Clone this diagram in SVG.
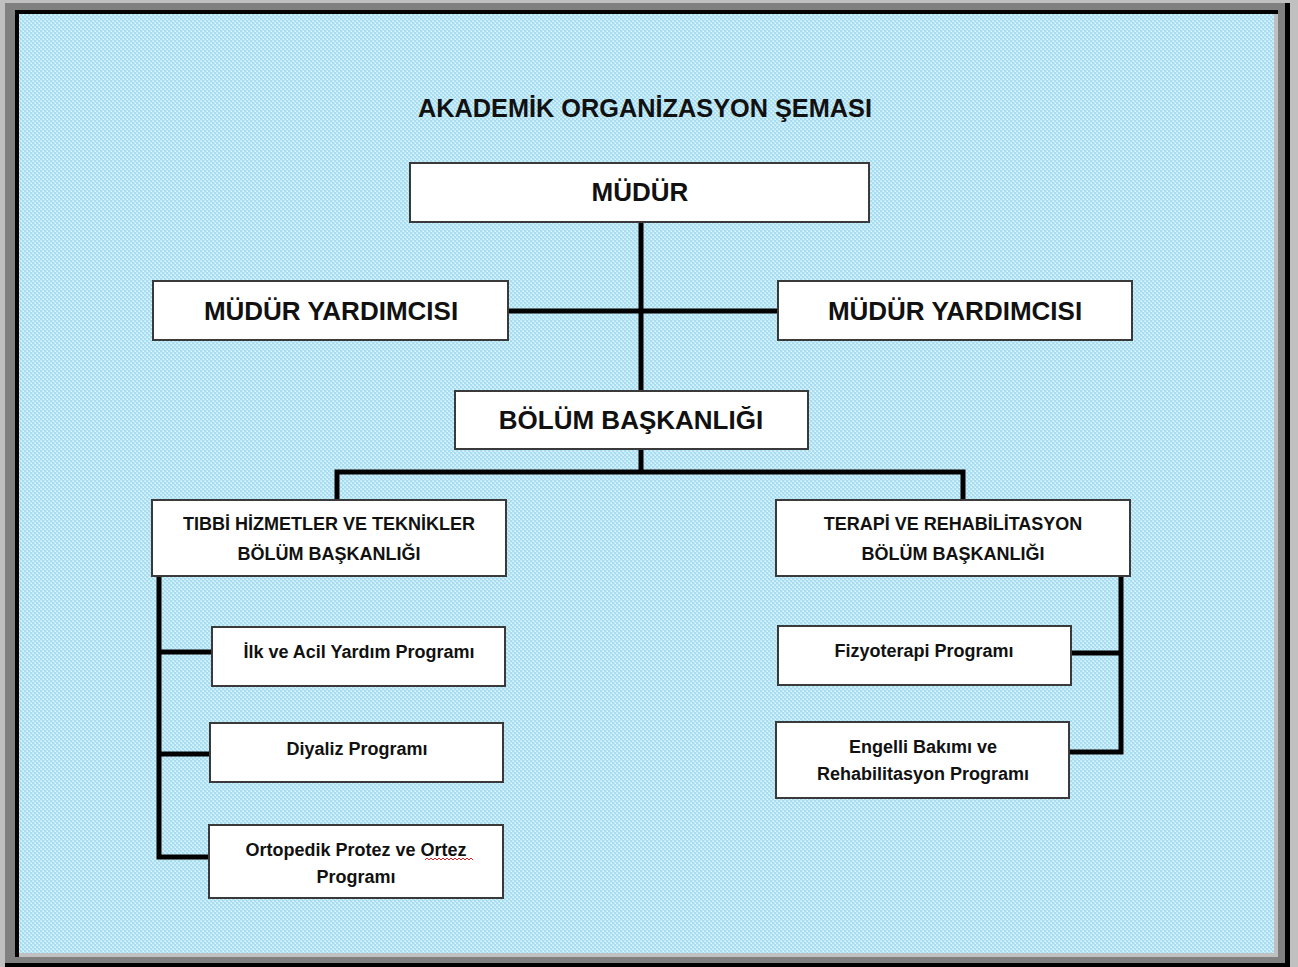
<svg xmlns="http://www.w3.org/2000/svg" width="1298" height="967" viewBox="0 0 1298 967">
<defs>
<pattern id="bg" width="4" height="4" patternUnits="userSpaceOnUse">
<rect width="4" height="4" fill="#a9dcee"/>
<rect x="0" y="0" width="2" height="2" fill="#c4ecf8"/>
<rect x="2" y="2" width="2" height="2" fill="#c4ecf8"/>
<rect x="1" y="1" width="1" height="1" fill="#dff6fc"/>
<rect x="3" y="3" width="1" height="1" fill="#dff6fc"/>
</pattern>
<style>
.box{fill:#fff;stroke:#3a3a3a;stroke-width:2}
.ln{stroke:#000;stroke-width:5;fill:none;stroke-linejoin:miter;stroke-linecap:square}
text{font-family:"Liberation Sans",Arial,sans-serif;font-weight:bold;fill:#111;text-anchor:middle}
.t1{font-size:26px}
.t2{font-size:18px}
.t3{font-size:18px}
</style>
</defs>
<rect width="1298" height="967" fill="#c0c0c0"/>
<rect x="5" y="3" width="1285" height="964" fill="#000"/>
<rect x="5" y="3" width="1280" height="960" fill="#808080"/>
<rect x="15" y="10" width="1263" height="947" fill="#000"/>
<rect x="19" y="14" width="1259" height="943" fill="#c0c0c0"/>
<rect x="19" y="14" width="1255" height="939" fill="url(#bg)"/>
<text x="645" y="117" style="font-size:25.3px">AKADEMİK ORGANİZASYON ŞEMASI</text>
<g id="connectors">
<path class="ln" d="M641 222 V392"/>
<path class="ln" d="M508 311 H778"/>
<path class="ln" d="M641 449 V472 M337 500 V472 H963 V500"/>
<path class="ln" d="M159 577 V857 H210 M159 652 H212 M159 754 H210"/>
<path class="ln" d="M1121 577 V752 H1069 M1121 653 H1071"/>
</g>
<g id="mudur"><rect class="box" x="410" y="163" width="459" height="59"/><text class="t1" x="640" y="201">MÜDÜR</text></g>
<g id="yard1"><rect class="box" x="153" y="281" width="355" height="59"/><text class="t1" x="331" y="320">MÜDÜR YARDIMCISI</text></g>
<g id="yard2"><rect class="box" x="778" y="281" width="354" height="59"/><text class="t1" x="955" y="320">MÜDÜR YARDIMCISI</text></g>
<g id="bolum"><rect class="box" x="455" y="391" width="353" height="58"/><text class="t1" x="631" y="429">BÖLÜM BAŞKANLIĞI</text></g>
<g id="tibbi"><rect class="box" x="152" y="500" width="354" height="76"/><text class="t2" x="329" y="530">TIBBİ HİZMETLER VE TEKNİKLER</text><text class="t2" x="329" y="560">BÖLÜM BAŞKANLIĞI</text></g>
<g id="terapi"><rect class="box" x="776" y="500" width="354" height="76"/><text class="t2" x="953" y="530">TERAPİ VE REHABİLİTASYON</text><text class="t2" x="953" y="560">BÖLÜM BAŞKANLIĞI</text></g>
<g id="ilk"><rect class="box" x="212" y="627" width="293" height="59"/><text class="t3" x="359" y="658">İlk ve Acil Yardım Programı</text></g>
<g id="diyaliz"><rect class="box" x="210" y="723" width="293" height="59"/><text class="t3" x="357" y="755">Diyaliz Programı</text></g>
<g id="ortopedik"><rect class="box" x="209" y="825" width="294" height="73"/><text class="t3" x="356" y="856">Ortopedik Protez ve Ortez</text><text class="t3" x="356" y="883">Programı</text>
<path d="M425 860 l2 -2 l2 2 l2 -2 l2 2 l2 -2 l2 2 l2 -2 l2 2 l2 -2 l2 2 l2 -2 l2 2 l2 -2 l2 2 l2 -2 l2 2 l2 -2 l2 2 l2 -2 l2 2 l2 -2 l2 2 l2 -2 l2 2" fill="none" stroke="#e02020" stroke-width="1"/></g>
<g id="fizyo"><rect class="box" x="778" y="626" width="293" height="59"/><text class="t3" x="924" y="657">Fizyoterapi Programı</text></g>
<g id="engelli"><rect class="box" x="776" y="722" width="293" height="76"/><text class="t3" x="923" y="753">Engelli Bakımı ve</text><text class="t3" x="923" y="780">Rehabilitasyon Programı</text></g>
</svg>
